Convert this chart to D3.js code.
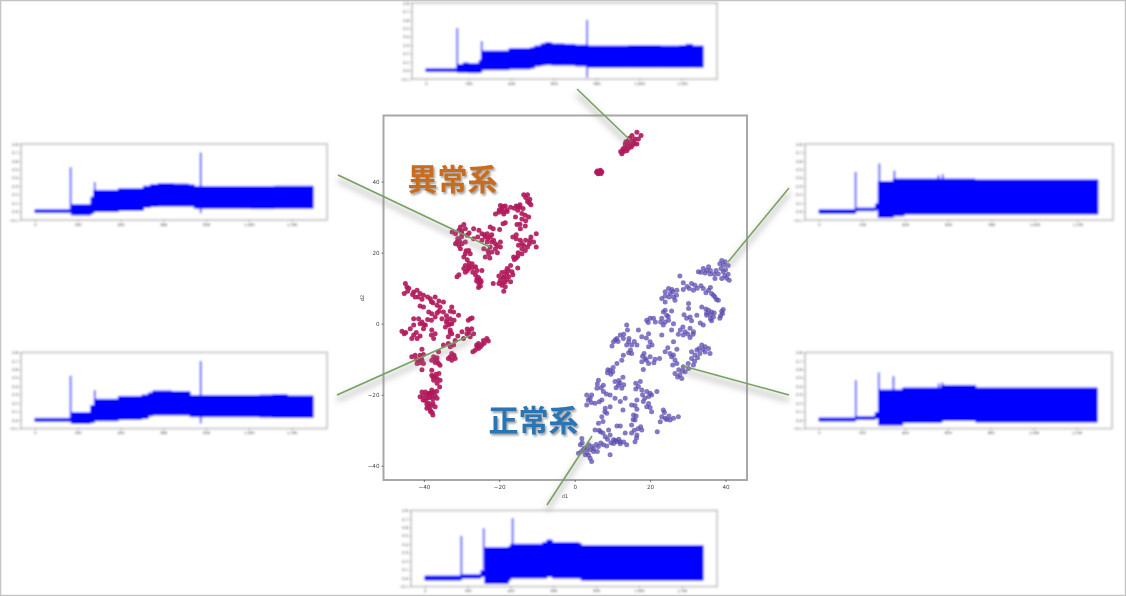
<!DOCTYPE html>
<html lang="ja"><head><meta charset="utf-8">
<script src="https://cdnjs.cloudflare.com/ajax/libs/d3/7.8.5/d3.min.js"></script>
<style>html,body{margin:0;padding:0;background:#fff}svg{display:block}</style></head><body>
<svg id="c" width="1126" height="596"></svg>
<script>
const labelAbnormal = "異常系";
const labelNormal = "正常系";
const scatterXTicks = [-40,-20,0,20,40];
const scatterYTicks = [-40,-20,0,20,40];
const miniXTicks = [0,200,400,600,800,1000,1200];
const miniYTicks = [-0.1,0,0.1,0.2,0.3,0.4,0.5,0.6,0.7,0.8];

// abnormal clusters (red)
const redUpper = [[-13.5,36.3],[-12.5,36.3],[-11.9,35],[-11.6,33.5],[-12.5,34.4],[-15.5,33.1],[-14.6,32.8],[-13.7,32.4],[-15.1,31.9],[-18.4,33.1],[-19.3,32.2],[-20.1,31.4],[-21,30.9],[-18.8,30.9],[-17.9,31.6],[-17,32.8],[-19.7,33.3],[-13.1,30.5],[-12.2,30],[-14,29.5],[-15.7,30],[-18.4,28.4],[-19,28.1],[-15.3,27.9],[-13.1,27.5],[-14.4,26.7],[-16.4,24.4],[-15.5,23.9],[-14.4,23.5],[-14.9,22.1],[-14,21.1],[-13.1,20.6],[-12.5,21.6],[-11.8,23.5],[-10.9,23],[-10.2,21.6],[-10.2,25.3],[-11.6,24.4],[-16.2,18.8],[-15.1,19],[-14,19.7],[-16,18.1],[-17,16.4],[-15.1,15.7],[-17.9,15.5],[-16.6,14.6],[-18.4,14.6],[-19.3,14.4],[-20.1,13.4],[-18.8,13.2],[-17.5,13.2],[-16.4,13.8],[-19.7,12.2],[-18.4,11.8],[-21.6,11.3],[-19.3,10.8],[-18.4,10.4],[-18.8,9.1],[-20.1,11.3],[-17,11.8],[-29.4,27.9],[-30.3,27.2],[-29,26.7],[-30.7,26.3],[-31.6,25.3],[-32.5,25.8],[-29.9,25.3],[-28.5,24.9],[-26.8,26.7],[-25.4,26.3],[-24.6,25.3],[-23.2,25.3],[-22.4,27.2],[-21.6,26.7],[-19.9,26.5],[-23.7,24.4],[-22.4,24.4],[-21.5,23.5],[-23.2,23],[-24.6,23.5],[-25.7,24.4],[-26.8,23.9],[-31.2,23],[-30.7,22],[-31.6,22.5],[-29.9,22.5],[-30.3,21.1],[-19.7,23],[-19.7,21.6],[-21,21.1],[-22.4,21.6],[-22.8,19.7],[-23.7,18.8],[-21.9,20.2],[-24.1,21.1],[-28.1,20.6],[-27.7,19.7],[-29,19.7],[-29.4,18.8],[-29,16.4],[-28.1,16],[-29.4,15.5],[-28.5,15],[-27.2,16.9],[-26.3,16],[-25.9,15],[-24.6,15],[-30.7,13.8],[-31.2,13.2],[-26.3,13.8],[-25.9,12.7],[-25,12.2],[-25.4,11.3],[-25,10.6]];
const redUpperDense = [[-13,35.5],[-12,34],[-14.5,33.5],[-15,33],[-16,32.5],[-19,31.5],[-20,32],[-18,32],[-19,33],[-14,31],[-13,29],[-14.5,28],[-15.5,25],[-14,22.5],[-13.5,22],[-12,22.5],[-13,23.5],[-15,20],[-15.5,18.5],[-18,14],[-19,13],[-18,12.5],[-19,11.5],[-17.5,15],[-30,26],[-30,24.5],[-31,24],[-29,23],[-28,25.5],[-30.5,23.2],[-23,24],[-22,23],[-21,22.5],[-20.5,22],[-22,25],[-24,25],[-23,20.5],[-22.5,18.5],[-20.5,20],[-28.5,18],[-28,17],[-29,14.5],[-27,14.5],[-28,15.5],[-27,15.8],[-26,12],[-25.5,10.2],[-24.8,11.8],[-25.5,13],[-28.8,20.5]];
const redLower = [[-44.9,11.3],[-44.5,10.3],[-45.2,8.5],[-44.3,9.1],[-42.7,8.9],[-41.8,9.4],[-42.3,7.5],[-41,8.5],[-40.1,8],[-40.5,6.9],[-38.3,7],[-37,7.5],[-37.6,5.9],[-36.5,5.2],[-35.7,4.7],[-34.8,6.1],[-41,5],[-40.1,4.7],[-32.6,4.7],[-32.1,3.3],[-30.8,2.4],[-34.8,3.3],[-38.7,3.3],[-37.9,2.8],[-37,1.9],[-42.7,1.4],[-41.4,1.4],[-40.5,0.5],[-39.6,-0.4],[-40.1,-1.4],[-35.2,1.4],[-33.9,1],[-33,1.4],[-32.6,0],[-33.5,-0.4],[-34.3,-0.9],[-27.7,1.4],[-28.2,1],[-27.2,1.6],[-45.8,-2.1],[-45.2,-2.8],[-43.6,-1.4],[-42.7,-0.4],[-42.7,-3.2],[-41.8,-4.2],[-43.2,-4.2],[-37.9,-1.8],[-37,-2.8],[-37.4,-4.2],[-33,-1.8],[-32.6,-2.8],[-33.5,-3.7],[-29.9,-2.3],[-28.6,-2.8],[-27.3,-1.4],[-26.8,-2.8],[-27.7,-3.7],[-29.5,-4.2],[-31.7,-4.7],[-33.5,-5.6],[-34.8,-6],[-32.1,-6],[-23.3,-4.2],[-24.2,-4.7],[-22.9,-4.9],[-25.5,-5.6],[-24.6,-5.9],[-25.9,-6.5],[-25,-6.5],[-27,-7.9],[-26.4,-7.5],[-40.5,-7.2],[-43.2,-9.3],[-42.3,-8.9],[-41,-8.9],[-40.1,-8.7],[-41.4,-10.3],[-40.5,-10.3],[-41.8,-11.2],[-40.1,-11.2],[-40.5,-13],[-37.4,-9.3],[-36.5,-9.6],[-37.9,-10.3],[-37,-10.9],[-36.1,-11.2],[-35.7,-11.7],[-36.1,-7.9],[-33,-6.5],[-32.6,-8.4],[-33.5,-9.8],[-31.7,-9.8],[-32.6,-10.3],[-37.9,-13.1],[-37.9,-14.5],[-37.4,-15.9],[-36.5,-15.4],[-35.7,-15.9],[-36.5,-16.8],[-35.8,-17.8],[-37.9,-18.7],[-39.6,-19.2],[-38.7,-19.6],[-41,-20.6],[-40.2,-21.5],[-39.2,-21],[-37.9,-20.6],[-36.5,-21],[-38.7,-22.4],[-37.6,-22.4],[-37,-23.4],[-39.2,-23.8],[-38.3,-24.3],[-37.6,-25.7],[-38.7,-23.4],[-40.5,-19.2],[-37.4,-19.2]];
const redLowerDense = [[-44,10],[-43,8.2],[-41.5,7.5],[-39,7.5],[-38,6.2],[-36,6.4],[-36,3.5],[-33,3.5],[-34,2.2],[-33,0],[-32,1],[-34,.4],[-39,1.2],[-38,1],[-36.5,3],[-41,0],[-40,-.3],[-44.8,-2.5],[-41,-3.5],[-42,-2.5],[-38,-3.2],[-33,-2.5],[-31,-3.5],[-28,-2],[-28,-3.2],[-28.5,-1.5],[-24,-5.5],[-25.5,-7],[-26,-6],[-42,-10],[-41,-11],[-40.7,-9.7],[-37,-9.8],[-36.5,-10.5],[-33,-9.3],[-32,-8.9],[-37.6,-15],[-37,-15],[-36.8,-14.2],[-36,-14],[-38.5,-19.7],[-39.2,-20],[-38,-19.5],[-38.5,-20.8],[-37.6,-21.2],[-37,-20.2],[-39.2,-22.7],[-38,-23],[-38.2,-24.8],[-37.8,-25],[-36.6,-19],[-40.2,-20.3],[-39.6,-21.6]];
const redTop = [[17.6,53],[16.5,53.9],[15.2,53],[14.2,51.5],[15.5,51.5],[13.4,50.6],[14.7,50.1],[12.8,49.2],[13.8,48.7],[12.5,47.8],[16.5,50.6],[16.9,52],[14.5,50.8],[13.2,49.5],[15,49.7],[16,52],[14,50],[12.2,48.5],[14.6,52.3],[15.8,50.8],[13,48.5],[14.2,49.3],[15.4,50.4],[13.6,51.2]];
const redSmall = [[6,43],[6.8,43.2],[7.2,42.8],[6.2,42.2],[6.6,42.4],[5.8,42.6],[6.5,42.9],[7,42.3]];

// normal cluster (purple)
const blueUpper = [[39,17.8],[39.9,17.4],[40.7,16.4],[38.5,16.9],[35.5,16],[34.1,15.5],[32.8,14.6],[34.6,14.3],[35.9,14],[38.1,14],[39.4,14.6],[40.7,13.9],[41,12.2],[39,12.7],[37.2,12.7],[27.9,13.4],[28.8,11.5],[31,11.3],[31.9,10.8],[30.4,9.9],[34.1,9.9],[35.5,9.4],[36.3,8.5],[37.2,7.5],[38.1,6.6],[31.5,9.4],[28.8,9.6],[27.1,9.4],[24.9,9.9],[24,9],[25.3,8.5],[26.2,7.5],[23.1,7.1],[24,6.1],[26.6,6.6],[30.2,5.7],[30.2,4.3],[33.7,4.7],[35.5,3.8],[36.3,3.3],[35,2.4],[36.8,1.9],[36.3,0.8],[39.4,4],[39.2,2.9],[38.5,1.5],[32.4,2.4],[30.6,1.9],[29.7,1.5],[33.3,0.2],[34.1,-0.4],[23.5,3.3],[25.7,3.6],[24.4,2.4],[23.1,1.5],[24.9,1],[26.2,0],[20,1.5],[20.9,1.5],[19.1,1],[23.5,-0.4],[25.7,-1.8],[28,-1.8],[29.3,-2.3],[30.6,-1.3],[31.5,-2.3],[23.1,-3.2],[30.6,-3.9],[28.8,-3.2],[26.2,-5.1],[27.1,-7.2],[24,-7.9],[25.3,-8.4],[25.7,-9.3],[26.6,-10.2],[33.7,-6],[34.6,-6.5],[35.5,-7],[35.9,-8.4],[32.4,-7.4],[31,-7.9],[33.2,-8.4],[31.9,-8.8],[31,-9.8],[31.5,-11.6],[30.2,-12.6],[28.8,-12.1],[29.3,-13.5],[27.9,-14.4],[28.4,-15.4],[26.6,-14],[27.1,-11.2]];
const blueUpperDense = [[39.5,16.5],[38.8,15.5],[40,15.2],[39.8,13.5],[40.3,12.8],[36,15],[35,15],[33.5,14.5],[37,14],[37.5,15],[29.8,10.5],[32.5,10],[33.5,10.7],[34.8,8.7],[36.8,8],[37.6,6.8],[36,10.2],[26,9],[25,7.5],[24,7.8],[27,8],[25.8,9.6],[35,3],[36,2.5],[34.8,4.1],[37,3],[36,1.4],[39,3.5],[38.7,2.2],[29,2.5],[31,.8],[24,3.8],[24,.5],[22.8,0.5],[24.8,2],[19.5,0.3],[21.4,.5],[28.7,-.9],[30,-2.9],[27.5,-3],[31.4,-3],[24.7,-6.8],[26.2,-8.8],[26,-11.6],[27.6,-13],[28.6,-13.3],[30.1,-11.2],[27.3,-15],[34,-7.3],[34.6,-8],[33,-7],[32.6,-9.6],[31.8,-10.6]];
const blueLower = [[13.8,-0.4],[14,-1.8],[16.9,-1.8],[12.1,-3.2],[11.2,-4.2],[10.3,-5.1],[9.9,-6.3],[12.9,-4.2],[14.3,-5.1],[15.1,-6],[16.5,-6],[17.8,-3.7],[19.6,-2.8],[20,-5.1],[19.6,-6.5],[14.3,-8.2],[15.1,-8.4],[12.9,-8.9],[12.5,-10.3],[11.2,-11.2],[9.4,-13.1],[8.7,-13.8],[10.1,-13.5],[18.7,-9.8],[20,-9.3],[17.8,-10.7],[19.6,-11.2],[21.3,-10],[22.5,-9.8],[18.2,-12.9],[10.7,-16.3],[11.6,-17.3],[12.5,-18.2],[12.8,-15.1],[17.4,-16.3],[16.9,-17.7],[17.8,-18.7],[19.1,-19.1],[20.4,-20.1],[21.8,-19.1],[19.6,-20.5],[18.2,-21.9],[19.1,-23.4],[20.4,-24.8],[16.5,-21.5],[15.1,-22.9],[16.5,-24.1],[15.6,-25.7],[16,-27.1],[17.5,-29],[17.8,-29.9],[15.1,-28.5],[16.5,-31.3],[16,-33.2],[15.1,-30.8],[13.4,-30.8],[23.5,-24.3],[23.1,-26.2],[22.7,-27.6],[24,-26.6],[25.3,-27.1],[26.2,-26.6],[27.5,-26.2],[21.9,-30.4],[6.3,-15.9],[7.6,-17.3],[5.9,-18.2],[7.6,-19.1],[9.4,-20.1],[10.7,-21],[12.1,-21.9],[13.4,-21],[12.8,-24.3],[9.4,-23.4],[3.2,-20.1],[4.1,-21],[3.2,-22.9],[5.4,-22.4],[4.5,-20.1],[7.2,-21.5],[8.1,-23.8],[7.2,-26.2],[8.5,-25.2],[6.3,-28],[11.2,-28.8],[12.1,-28.8],[5.4,-29.9],[6.8,-30.4],[9,-29.9],[8.1,-31.8],[9.4,-31.3],[10.3,-32.7],[11.2,-33.2],[12.1,-33.8],[13.8,-34.1],[7.6,-34.1],[6.3,-34.6],[5,-35.1],[3.7,-34.1],[1.9,-32.3],[1.5,-34.1],[2.3,-35.5],[1,-36.5],[3.2,-36.5],[4.1,-37.9],[4.5,-38.8],[9.4,-36.9],[10.3,-33.7],[12.1,-33.2],[4.1,-35.5],[2.8,-36.9]];
const blueLowerDense = [[13,-3],[11.5,-5],[10.8,-4.5],[13.8,-6],[15.8,-5],[14.8,-7.4],[14.4,-4.2],[19,-4],[20.5,-6],[18.4,-8.4],[18,-9.2],[19,-10.3],[21,-11],[8.8,-13],[9.6,-14.2],[10.2,-12.3],[11.7,-16],[12,-16.7],[13,-17.2],[11,-18],[16.2,-16.8],[16.2,-18.4],[18,-20],[20,-19.6],[18.6,-21],[19.6,-22.5],[20,-23.6],[16,-23],[16.3,-26],[15.5,-27],[16.8,-29.6],[15.8,-30],[16.4,-32.2],[23.8,-25],[24.4,-27],[25,-26],[6,-17],[7,-18],[8.4,-19.8],[4.4,-22.2],[3.6,-21.5],[6.5,-22],[8,-24.8],[7.5,-27.5],[6.5,-30],[7.5,-30.8],[8.7,-32.5],[9.6,-33.5],[10.8,-32.8],[11.7,-32.5],[13,-33.3],[8.5,-34.4],[6.9,-33.6],[5.7,-34],[4.6,-34.6],[3.3,-35.2],[2,-33.5],[1.8,-36],[3.7,-37],[5,-36],[2.6,-35],[6,-36]];

// envelopes of the six small time series: [sample, upper, lower], held until the next sample
const topSeries = [[0,.02,-.012],[147,.07,-.02],[175,.09,-.02],[200,.08,-.025],[250,.12,-.02],[262,.23,.01],[390,.26,.02],[490,.27,.03],[510,.29,.055],[540,.315,.065],[560,.33,.07],[590,.315,.065],[650,.31,.065],[700,.30,.055],[760,.29,.04],[950,.295,.04],[1100,.29,.04],[1190,.295,.04],[1220,.31,.04],[1250,.29,.04],[1300,.29,.04]];
const topSpikes = [[147,-.01,.505],[262,.1,.35],[756,-.08,.6]];
const leftUpperSeries = [[0,.02,-.012],[170,.08,-.04],[262,.17,-.02],[275,.25,0],[390,.27,.015],[507,.30,.05],[540,.32,.06],[575,.33,.065],[650,.325,.065],[720,.315,.065],[745,.295,.04],[1010,.295,.035],[1120,.3,.04],[1300,.295,.04]];
const leftUpperSpikes = [[167,0,.525],[280,.1,.35],[775,-.02,.7]];
const leftLowerSeries = [[0,.02,-.016],[170,.087,-.04],[260,.17,-.03],[278,.245,-.008],[390,.28,.008],[500,.296,.02],[530,.32,.05],[550,.344,.06],[640,.336,.06],[725,.29,.04],[1050,.295,.035],[1110,.3,.03],[1180,.285,.03],[1300,.285,.03]];
const leftLowerSpikes = [[167,0,.525],[280,.1,.355],[775,-.04,.7]];
const rightUpperSeries = [[0,.02,-.02],[170,.04,.01],[262,.09,.02],[275,.355,-.07],[345,.385,-.05],[395,.385,-.03],[725,.375,-.03],[1295,.375,-.03]];
const rightUpperSpikes = [[170,0,.47],[280,.1,.57],[350,.3,.485],[555,-.02,.43],[575,-.02,.445]];
const rightLowerSeries = [[0,.024,-.012],[170,.04,.008],[262,.09,.02],[278,.355,-.06],[390,.38,-.03],[570,.41,-.004],[730,.38,-.024],[1296,.38,-.024]];
const rightLowerSpikes = [[172,0,.474],[279,.1,.565],[347,.3,.52],[558,-.02,.435],[575,-.02,.445]];
const bottomSeries = [[0,.024,-.024],[170,.04,0],[262,.09,.02],[280,.36,-.065],[390,.37,-.025],[400,.4,0],[550,.42,0],[570,.45,.02],[595,.42,0],[720,.41,0],[730,.385,-.025],[1300,.385,-.025]];
const bottomSpikes = [[170,0,.5],[275,.1,.59],[410,.3,.71]];

const panels = [
  {series:topSeries, spikes:topSpikes, x:412, y:3, w:305, h:76},
  {series:leftUpperSeries, spikes:leftUpperSpikes, x:21, y:144, w:306, h:76},
  {series:leftLowerSeries, spikes:leftLowerSpikes, x:21, y:352.5, w:306, h:76},
  {series:rightUpperSeries, spikes:rightUpperSpikes, x:805, y:144, w:308, h:76},
  {series:rightLowerSeries, spikes:rightLowerSpikes, x:805, y:352.5, w:307, h:76},
  {series:bottomSeries, spikes:bottomSpikes, x:411, y:510.5, w:306, h:76}
];
const connectors = [[338,175,490,247],[337,395,471,335],[577,89,630,140],[789,188,728,262],[789,395,683,366],[547,505,592,436]];

const svg = d3.select("#c");
const defs = svg.append("defs");
const blur = (id,s)=>defs.append("filter").attr("id",id).attr("x","-20%").attr("y","-20%").attr("width","140%").attr("height","140%").append("feGaussianBlur").attr("stdDeviation",s);
blur("b1",0.85); blur("b2",0.7); blur("b3",3); blur("b4",1.2); blur("b5",0.45);

svg.append("rect").attr("x",.5).attr("y",.5).attr("width",1125).attr("height",595).attr("fill","#fff").attr("stroke","#c4c4c4").attr("stroke-width",1.5);

// small time-series panels
panels.forEach(p=>{
  const g = svg.append("g").attr("filter","url(#b1)");
  const x = d3.scaleLinear().domain([-65,1365]).range([p.x,p.x+p.w]);
  const y = d3.scaleLinear().domain([-0.1,0.8]).range([p.y+p.h,p.y]);
  g.append("rect").attr("x",p.x).attr("y",p.y).attr("width",p.w).attr("height",p.h).attr("fill","#fff").attr("stroke","#c8c8c8").attr("stroke-width",1.8);
  const ax = g.append("g").attr("transform",`translate(0,${p.y+p.h})`).call(d3.axisBottom(x).tickValues(miniXTicks).tickSize(1.5).tickPadding(1.5));
  const ay = g.append("g").attr("transform",`translate(${p.x},0)`).call(d3.axisLeft(y).tickValues(miniYTicks).tickSize(1.5).tickPadding(1.5).tickFormat(d3.format(".1f")));
  [ax,ay].forEach(a=>{a.select(".domain").remove();a.selectAll("line").attr("stroke","#555").attr("stroke-width",.7);a.selectAll("text").attr("font-family","DejaVu Sans").attr("font-size",3.6).attr("fill","#333");});
  g.selectAll(".spike").data(p.spikes).join("line").attr("x1",d=>x(d[0])).attr("x2",d=>x(d[0])).attr("y1",d=>y(d[1])).attr("y2",d=>y(d[2])).attr("stroke","#5a5aff").attr("stroke-width",2);
  g.append("path").datum(p.series).attr("fill","#0000ff").attr("stroke","#0000ff").attr("stroke-width",1)
   .attr("d",d3.area().curve(d3.curveStepAfter).x(d=>x(d[0])).y0(d=>y(d[2])).y1(d=>y(d[1])));
});

// central scatter
const L=383.5,R=747,T=115.5,B=480;
const sx = d3.scaleLinear().domain([-50.7,45.7]).range([L,R]);
const sy = d3.scaleLinear().domain([-44,58.6]).range([B,T]);
const sg = svg.append("g").attr("filter","url(#b2)");
sg.append("rect").attr("x",L).attr("y",T).attr("width",R-L).attr("height",B-T).attr("fill","#fff").attr("stroke","#a8a8a8").attr("stroke-width",2);
const sax = sg.append("g").attr("transform",`translate(0,${B})`).call(d3.axisBottom(sx).tickValues(scatterXTicks).tickSize(2).tickPadding(3));
const say = sg.append("g").attr("transform",`translate(${L},0)`).call(d3.axisLeft(sy).tickValues(scatterYTicks).tickSize(2).tickPadding(2));
[sax,say].forEach(a=>{a.select(".domain").remove();a.selectAll("line").attr("stroke","#555").attr("stroke-width",.8);a.selectAll("text").attr("font-family","DejaVu Sans").attr("font-size",5.6).attr("fill","#444");});
sg.append("text").attr("x",565).attr("y",498).attr("text-anchor","middle").attr("font-family","DejaVu Sans").attr("font-size",5).attr("fill","#444").text("d1");
sg.append("text").attr("transform","translate(364,298) rotate(-90)").attr("text-anchor","middle").attr("font-family","DejaVu Sans").attr("font-size",5).attr("fill","#444").text("d2");
const dots=(data,c,o)=>sg.append("g").selectAll("circle").data(data).join("circle").attr("cx",d=>sx(d[0])).attr("cy",d=>sy(d[1])).attr("r",2.5).attr("fill",c).attr("fill-opacity",o);
[redUpper,redUpperDense,redLower,redLowerDense,redTop,redSmall].forEach(s=>dots(s,"#b0185a",.9));
[blueUpper,blueUpperDense,blueLower,blueLowerDense].forEach(s=>dots(s,"#5a4cb0",.75));

// connectors
connectors.forEach(c=>{
  svg.append("line").attr("x1",c[0]).attr("y1",c[1]+5).attr("x2",c[2]).attr("y2",c[3]+5).attr("stroke","#888").attr("stroke-opacity",.5).attr("stroke-width",4).attr("filter","url(#b3)");
  svg.append("line").attr("x1",c[0]).attr("y1",c[1]).attr("x2",c[2]).attr("y2",c[3]).attr("stroke","#76a05c").attr("stroke-width",1.5).attr("filter","url(#b5)");
});

// group labels
const lab=(t,cx,cy,col)=>{
  svg.append("text").attr("x",cx+1.5).attr("y",cy+2).attr("text-anchor","middle").attr("font-family","'Noto Sans CJK JP'").attr("font-weight",700).attr("font-size",30).attr("fill","#777").attr("fill-opacity",.7).attr("filter","url(#b4)").text(t);
  svg.append("text").attr("x",cx).attr("y",cy).attr("text-anchor","middle").attr("font-family","'Noto Sans CJK JP'").attr("font-weight",700).attr("font-size",30).attr("fill",col).attr("filter","url(#b5)").text(t);
};
lab(labelAbnormal,452.5,190,"#c96d1e");
lab(labelNormal,533.5,431,"#2c74b3");
</script></body></html>
